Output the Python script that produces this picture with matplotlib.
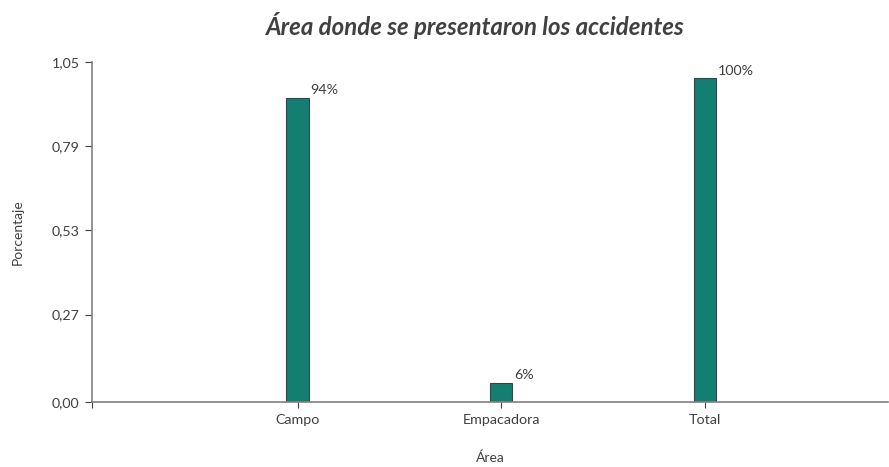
import numpy as np
import matplotlib.pyplot as plt

# datos
areas = ['Campo', 'Empacadora', 'Total']
porcentajes = [0.94, 0.06, 1.00]
etiquetas = ['94%', '6%', '100%']
yticks = [0.00, 0.27, 0.53, 0.79, 1.05]

plt.rcParams['font.family'] = ['Lato', 'DejaVu Sans']
gris = '#404040'

fig = plt.figure(figsize=(8.89, 4.67), dpi=100)
ax = fig.add_axes([0.1035, 0.1392, 0.8954, 0.728])

x = np.arange(len(areas))
w = 0.11
x0 = -1.01
ax.bar(x, porcentajes, width=w, color='#137f73', edgecolor=gris, linewidth=0.8)
for xi, v, t in zip(x, porcentajes, etiquetas):
    ax.annotate(t, (xi + w / 2, v), xytext=(1, 1), textcoords='offset points',
                ha='left', va='bottom', fontsize=10.3, color=gris)

ax.set_xlim(x0, 2.9)
ax.set_ylim(0, 1.05)
ax.set_yticks(yticks)
ax.set_yticklabels([f'{t:.2f}'.replace('.', ',') for t in yticks])
ax.set_xticks([x0] + list(x))
ax.set_xticklabels([''] + areas)
ax.tick_params(colors=gris, labelsize=10.3, length=5, width=0.8, pad=4)
ax.tick_params(axis='x', length=4, pad=5)

for s in ['top', 'right']:
    ax.spines[s].set_visible(False)
for s in ['left', 'bottom']:
    ax.spines[s].set_color('#808080')
    ax.spines[s].set_linewidth(1.2)

ax.set_ylabel('Porcentaje', fontsize=10, color=gris, labelpad=20)
ax.set_xlabel('Área', fontsize=10, color=gris, labelpad=18)
fig.text(0.535, 0.945, 'Área donde se presentaron los accidentes', ha='center',
         va='center', fontsize=17.3, fontweight='bold', fontstyle='italic', color=gris)

fig.savefig('out.png', dpi=100)
